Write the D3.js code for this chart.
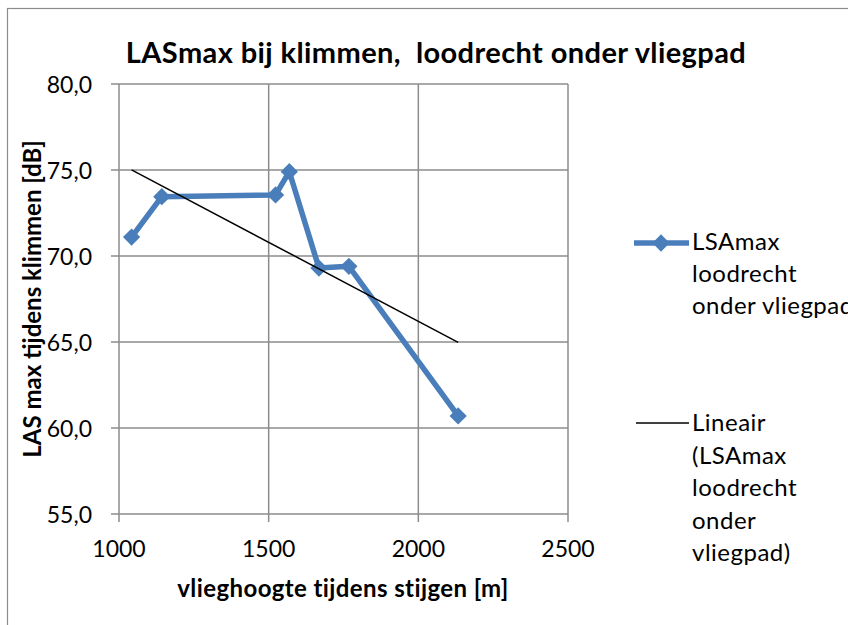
<!DOCTYPE html>
<html lang="nl">
<head>
  <meta charset="UTF-8">
  <title>LASmax bij klimmen</title>
  <script src="https://d3js.org/d3.v7.min.js"></script>
  <style>
    body { margin: 0; background: #fff; }
    text { font-family: Lato, "Open Sans", sans-serif; fill: #000; }
  </style>
</head>
<body>
  <div id="container"></div>
  <script>
    // vlieghoogte [m] en LASmax [dB]
    const hoogte = [1042, 1143, 1523, 1569, 1668, 1768, 2133]
    const lasmax = [71.1, 73.45, 73.55, 74.9, 69.3, 69.4, 60.7]
    const xTicks = [1000, 1500, 2000, 2500]
    const yTicks = [55, 60, 65, 70, 75, 80]
    const legendLabels = [
      ['LSAmax', 'loodrecht', 'onder vliegpad'],
      ['Lineair', '(LSAmax', 'loodrecht', 'onder', 'vliegpad)']
    ]

    const width = 848, height = 625
    const plot = {left: 119, right: 568, top: 84, bottom: 514}
    const blue = '#4a7ebb'
    const grid = '#8c8c8c'

    const svg = d3.select('#container').append('svg')
      .attr('width', width)
      .attr('height', height)

    // chart border (runs off the page at right and bottom)
    svg.append('rect')
      .attr('x', 7.5).attr('y', 8.5)
      .attr('width', 1000).attr('height', 1000)
      .attr('fill', 'none')
      .attr('stroke', '#8c8c8c')
      .attr('stroke-width', 1.2)

    const x = d3.scaleLinear().domain([1000, 2500]).range([plot.left, plot.right])
    const y = d3.scaleLinear().domain([55, 80]).range([plot.bottom, plot.top])

    // gridlines
    svg.append('g').selectAll('line').data(yTicks).enter().append('line')
      .attr('x1', plot.left - 8).attr('x2', plot.right)
      .attr('y1', d => y(d)).attr('y2', d => y(d))
      .attr('stroke', grid).attr('stroke-width', 1.5)
    svg.append('g').selectAll('line').data(xTicks).enter().append('line')
      .attr('x1', d => x(d)).attr('x2', d => x(d))
      .attr('y1', plot.top).attr('y2', plot.bottom + 8)
      .attr('stroke', grid).attr('stroke-width', 1.5)

    // tick labels
    svg.append('g').selectAll('text').data(yTicks).enter().append('text')
      .attr('x', 92).attr('y', d => y(d) + 9)
      .attr('text-anchor', 'end')
      .style('font-size', '23px')
      .text(d => d3.format('.1f')(d).replace('.', ','))
    svg.append('g').selectAll('text').data(xTicks).enter().append('text')
      .attr('x', d => x(d)).attr('y', 557)
      .attr('text-anchor', 'middle')
      .style('font-size', '23px')
      .text(d => d)

    // title and axis titles
    svg.append('text')
      .attr('x', 436).attr('y', 63)
      .attr('text-anchor', 'middle')
      .style('font-size', '29px').style('font-weight', 'bold')
      .style('letter-spacing', '0.4px')
      .style('white-space', 'pre')
      .text('LASmax bij klimmen,  loodrecht onder vliegpad')
    svg.append('text')
      .attr('x', 343).attr('y', 597)
      .attr('text-anchor', 'middle')
      .style('font-size', '24px').style('font-weight', 'bold')
      .style('letter-spacing', '0.4px')
      .text('vlieghoogte tijdens stijgen [m]')
    svg.append('text')
      .attr('transform', 'translate(41,299) rotate(-90)')
      .attr('text-anchor', 'middle')
      .style('font-size', '24px').style('font-weight', 'bold')
      .text('LAS max tijdens klimmen [dB]')

    const pts = hoogte.map((h, i) => ({h: h, v: lasmax[i]}))

    // trendline (least squares over the measured points)
    const mx = d3.mean(hoogte), my = d3.mean(lasmax)
    const slope = d3.sum(pts, p => (p.h - mx) * (p.v - my)) / d3.sum(pts, p => (p.h - mx) ** 2)
    const trend = d3.extent(hoogte).map(h => ({h: h, v: my + slope * (h - mx)}))

    const line = d3.line().x(d => x(d.h)).y(d => y(d.v))

    svg.append('path')
      .datum(pts)
      .attr('d', line)
      .attr('fill', 'none')
      .attr('stroke', blue)
      .attr('stroke-width', 5.5)
      .attr('stroke-linejoin', 'round')

    const diamond = d3.symbol().type(d3.symbolDiamond2).size(190)
    svg.append('g').selectAll('path').data(pts).enter().append('path')
      .attr('d', diamond)
      .attr('transform', d => 'translate(' + x(d.h) + ',' + y(d.v) + ')')
      .attr('fill', blue)

    svg.append('path')
      .datum(trend)
      .attr('d', line)
      .attr('fill', 'none')
      .attr('stroke', '#000')
      .attr('stroke-width', 1.5)

    // legend
    const leg1 = svg.append('g')
    leg1.append('line')
      .attr('x1', 634).attr('x2', 689).attr('y1', 243).attr('y2', 243)
      .attr('stroke', blue).attr('stroke-width', 5.5)
    leg1.append('path')
      .attr('d', diamond)
      .attr('transform', 'translate(661,243)')
      .attr('fill', blue)
    leg1.selectAll('text').data(legendLabels[0]).enter().append('text')
      .attr('x', 692).attr('y', (d, i) => 250 + i * 32)
      .style('font-size', '24px').style('letter-spacing', '0.5px')
      .text(d => d)

    const leg2 = svg.append('g')
    leg2.append('line')
      .attr('x1', 636).attr('x2', 689).attr('y1', 423).attr('y2', 423)
      .attr('stroke', '#000').attr('stroke-width', 1.5)
    leg2.selectAll('text').data(legendLabels[1]).enter().append('text')
      .attr('x', 692).attr('y', (d, i) => 431 + i * 32.5)
      .style('font-size', '24px').style('letter-spacing', '0.5px')
      .text(d => d)
  </script>
</body>
</html>
